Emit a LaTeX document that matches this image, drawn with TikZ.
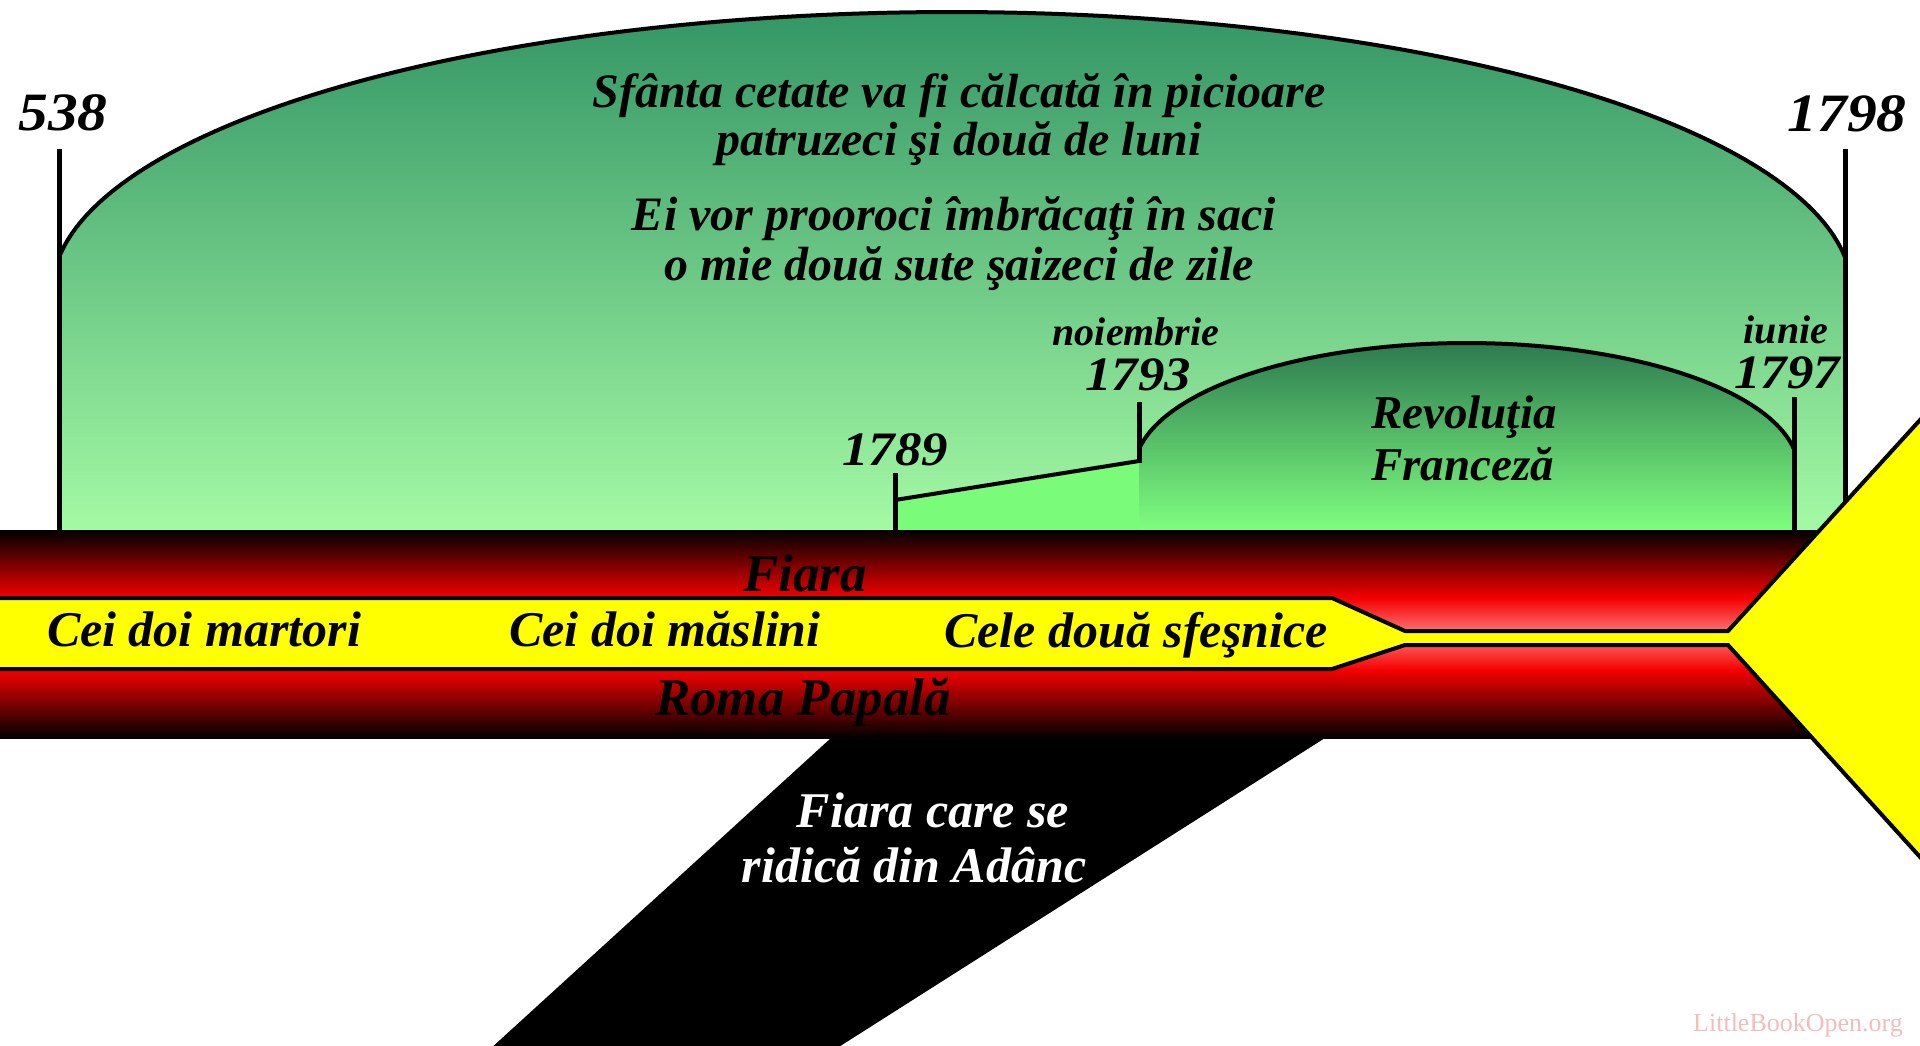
\documentclass[tikz,border=0pt]{standalone}
\usepackage{fontspec}
\setmainfont{Liberation Serif}
\definecolor{archtop}{RGB}{52,150,102}
\definecolor{archbot}{RGB}{164,250,164}
\definecolor{revtop}{RGB}{45,123,80}
\definecolor{revbot}{RGB}{128,255,128}
\definecolor{trapgreen}{RGB}{122,252,122}
\definecolor{lightred}{RGB}{255,122,122}
\definecolor{bandred}{RGB}{245,0,0}
\definecolor{wmcol}{RGB}{240,190,190}
\definecolor{bandyellow}{RGB}{255,255,0}
\pgfdeclareverticalshading{redband}{100bp}{color(0bp)=(black); color(25bp)=(black); color(41.35bp)=(bandred); color(50bp)=(lightred); color(58.65bp)=(bandred); color(75bp)=(black); color(100bp)=(black)}
\tikzset{
  outl/.style={line width=4pt},
  yearline/.style={line width=5pt},
  yearbig/.style={font=\fontsize{54}{60}\selectfont\bfseries\itshape, inner sep=0pt, anchor=base, xscale=1.1, transform shape},
  yearmid/.style={font=\fontsize{48}{56}\selectfont\bfseries\itshape, inner sep=0pt, anchor=base, xscale=1.1, transform shape},
  monthtxt/.style={font=\fontsize{40}{48}\selectfont\bfseries\itshape, inner sep=0pt, anchor=base},
  archtxt/.style={font=\fontsize{48}{56}\selectfont\bfseries\itshape, inner sep=0pt, anchor=base},
  revtxt/.style={font=\fontsize{47}{56}\selectfont\bfseries\itshape, inner sep=0pt, anchor=base west},
  bandtxt/.style={font=\fontsize{50}{58}\selectfont\bfseries\itshape, inner sep=0pt, anchor=base},
  bandtxtbig/.style={font=\fontsize{53}{60}\selectfont\bfseries\itshape, inner sep=0pt, anchor=base},
  wmark/.style={font=\fontsize{26}{30}\selectfont, text=wmcol, inner sep=0pt, anchor=base},
}
\begin{document}
\begin{tikzpicture}[x=1pt,y=-1pt]
\clip (0,0) rectangle (1920,1045);
\fill[white] (0,0) rectangle (1920,1045);
% big arch
\shade[top color=archtop,bottom color=archbot] (59,532) -- (59,257) -- plot[domain=7.18:172.82,samples=150] ({952-900*cos(\x)},{292-280*sin(\x)}) -- (1845,532) -- cycle;
\draw[outl] plot[domain=7.18:172.82,samples=150] ({952-900*cos(\x)},{292-280*sin(\x)});
\draw[yearline] (59,149) -- (59,532);
\draw[yearline] (1845,149) -- (1845,532);
% trapezoid 1789-1793
\fill[trapgreen] (895,532) -- (895,500) -- (1139,461) -- (1139,532) -- cycle;
% small arch
\shade[top color=revtop,bottom color=revbot] (1139,532) -- (1139,449) -- plot[domain=9.46:170.54,samples=100] ({1466.5-332*cos(\x)},{470-127*sin(\x)}) -- (1794,532) -- cycle;
\draw[outl] plot[domain=9.46:170.54,samples=100] ({1466.5-332*cos(\x)},{470-127*sin(\x)});
\draw[outl] (895,500) -- (1139,461);
\draw[yearline] (895,473) -- (895,532);
\draw[yearline] (1139,402) -- (1139,463);
\draw[yearline] (1794,397) -- (1794,532);
% beast from the abyss
\fill[black] (831,730) -- (1325,730) -- (1325,738) -- (834,1050) -- (489,1050) -- (831,738) -- cycle;
% red band
\shade[shading=redband] (-5,530) rectangle (1930,738);
% yellow band
\draw[line width=4pt, fill=bandyellow, line join=miter] (-10,598) -- (1332,598) -- (1405,631) -- (1728,631) -- (1930,409) -- (1930,868) -- (1728,645) -- (1405,645) -- (1332,669) -- (-10,669) -- cycle;
% texts
\node[yearbig] (y538) at (63,130) {538};
\node[yearbig] (y1798) at (1847,131) {1798};
\node[archtxt] (a1) at (959,107) {Sfânta cetate va fi călcată în picioare};
\node[archtxt] (a2) at (959,155) {patruzeci şi două de luni};
\node[archtxt] (a3) at (954,230) {Ei vor prooroci îmbrăcaţi în saci};
\node[archtxt] (a4) at (959,280) {o mie două sute şaizeci de zile};
\node[monthtxt] (m1) at (1136,345) {noiembrie};
\node[yearmid] (y1793) at (1138,390) {1793};
\node[monthtxt] (m2) at (1786,343) {iunie};
\node[yearmid] (y1797) at (1787,388) {1797};
\node[yearmid] (y1789) at (895,465) {1789};
\node[revtxt] (r1) at (1371,428) {Revoluţia};
\node[revtxt] (r2) at (1371,480) {Franceză};
\node[bandtxtbig] (b1) at (805,591) {Fiara};
\node[bandtxt] (b2) at (204,646) {Cei doi martori};
\node[bandtxt] (b3) at (665,646) {Cei doi măslini};
\node[bandtxt] (b4) at (1136,647) {Cele două sfeşnice};
\node[bandtxtbig] (b5) at (803,715) {Roma Papală};
\node[bandtxt,text=white] (d1) at (933,827) {Fiara care se};
\node[bandtxt,text=white] (d2) at (914,882) {ridică din Adânc};
\node[wmark] (wm) at (1798,1031) {LittleBookOpen.org};
\end{tikzpicture}
\end{document}
